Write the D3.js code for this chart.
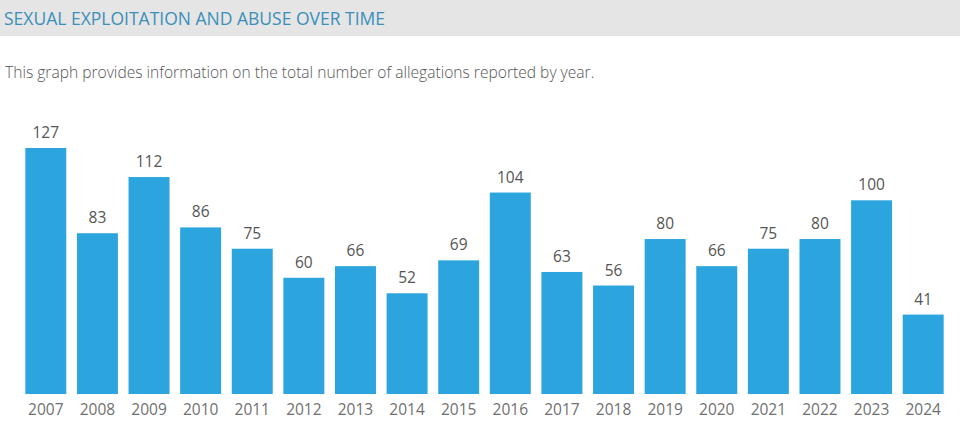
<!DOCTYPE html>
<html>
<head>
<meta charset="utf-8">
<script src="https://cdn.jsdelivr.net/npm/d3@7"></script>
<style>
  body { margin: 0; background: #fff; }
  #wrapper { width: 960px; height: 424px; }
</style>
</head>
<body>
<div id="wrapper"></div>
<script>
const years = ["2007","2008","2009","2010","2011","2012","2013","2014","2015","2016","2017","2018","2019","2020","2021","2022","2023","2024"]
const allegations = [127, 83, 112, 86, 75, 60, 66, 52, 69, 104, 63, 56, 80, 66, 75, 80, 100, 41]
const titleText = "SEXUAL EXPLOITATION AND ABUSE OVER TIME"
const subtitleText = "This graph provides information on the total number of allegations reported by year."

function drawChart() {
    const dataset = years.map((y, i) => ({ year: y, value: allegations[i] }))
    const xAccessor = d => d.year
    const yAccessor = d => d.value

    let dimensions = {
        width: 960,
        height: 424,
        margin: { top: 148, right: 11, bottom: 30, left: 20 },
    }
    dimensions.boundedWidth = dimensions.width - dimensions.margin.left - dimensions.margin.right
    dimensions.boundedHeight = dimensions.height - dimensions.margin.top - dimensions.margin.bottom

    const font = "'Open Sans', 'Noto Sans', sans-serif"

    const wrapper = d3.select("#wrapper")
        .html("")
        .append("svg")
        .attr("width", dimensions.width)
        .attr("height", dimensions.height)
        .style("font-family", font)

    // header band
    wrapper.append("rect")
        .attr("x", 0).attr("y", 0)
        .attr("width", dimensions.width).attr("height", 36)
        .attr("fill", "#e5e5e5")

    wrapper.append("text")
        .attr("x", 4)
        .attr("y", 25)
        .text(titleText)
        .attr("fill", "#3b8fb9")
        .attr("font-size", "17.5px")

    wrapper.append("text")
        .attr("x", 5)
        .attr("y", 78)
        .text(subtitleText)
        .attr("fill", "#555")
        .attr("font-size", "15.6px")
        .attr("font-weight", 300)

    const bounds = wrapper.append("g")
        .attr("transform", `translate(${dimensions.margin.left},${dimensions.margin.top})`)

    const xScaler = d3.scaleBand()
        .domain(years)
        .range([0, dimensions.boundedWidth])
        .paddingInner(0.206)
        .paddingOuter(0.103)

    const yScaler = d3.scaleLinear()
        .domain([0, d3.max(allegations)])
        .range([dimensions.boundedHeight, 0])

    bounds.append("g")
        .selectAll("rect")
        .data(dataset)
        .enter()
        .append("rect")
        .attr("x", d => xScaler(xAccessor(d)))
        .attr("y", d => yScaler(yAccessor(d)))
        .attr("width", xScaler.bandwidth())
        .attr("height", d => dimensions.boundedHeight - yScaler(yAccessor(d)))
        .attr("fill", "#2ca5df")

    bounds.append("g")
        .selectAll("text")
        .data(dataset)
        .enter()
        .append("text")
        .attr("x", d => xScaler(xAccessor(d)) + xScaler.bandwidth() / 2)
        .attr("y", d => yScaler(yAccessor(d)) - 10)
        .text(d => yAccessor(d))
        .attr("fill", "#555")
        .attr("font-size", "15.5px")
        .attr("text-anchor", "middle")

    const xAxisGen = d3.axisBottom().scale(xScaler).tickSize(0).tickPadding(10)
    const xAxis = bounds.append("g")
        .attr("transform", `translate(0,${dimensions.boundedHeight})`)
        .call(xAxisGen)
    xAxis.select(".domain").remove()
    xAxis.selectAll("text")
        .attr("fill", "#707070")
        .attr("font-size", "15.5px")
        .attr("font-family", font)
}

drawChart()
</script>
</body>
</html>
